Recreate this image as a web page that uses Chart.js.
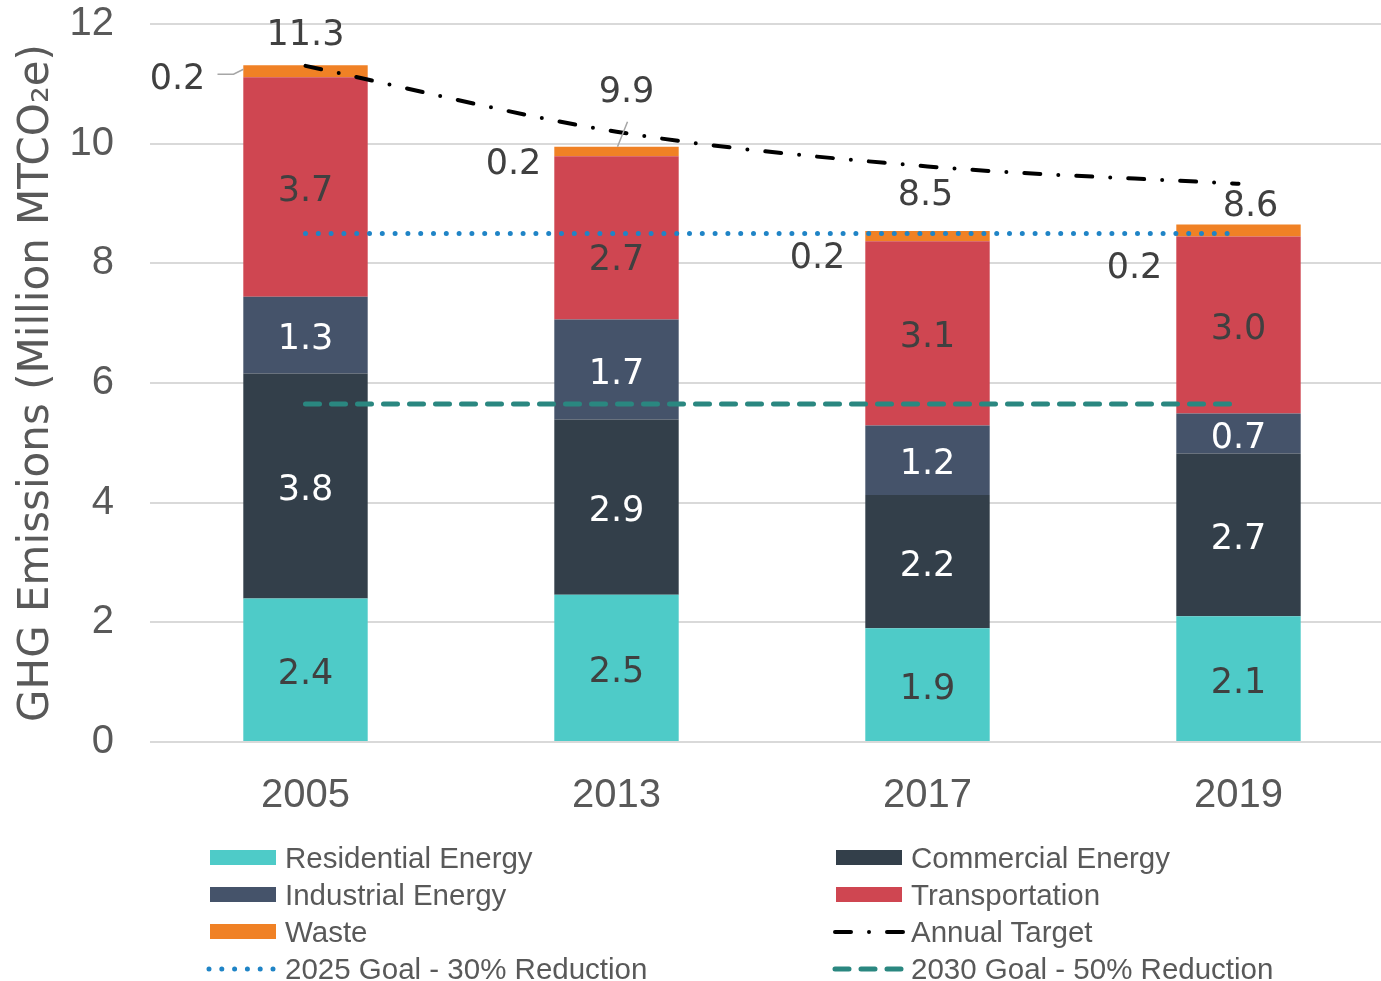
<!DOCTYPE html>
<html>
<head>
<meta charset="utf-8">
<script src="https://cdn.jsdelivr.net/npm/chart.js@4.4.1/dist/chart.umd.min.js"></script>
<style>
  html, body { margin: 0; padding: 0; background: #fff; overflow: hidden; }
  #wrap { position: relative; width: 1381px; height: 981px; overflow: hidden; }
  #chart { position: absolute; left: 0; top: -36px; }
  .lg-item { position: absolute; height: 36px; white-space: nowrap;
    font-family: "Liberation Sans", Arial, sans-serif; font-size: 29.5px; color: #595959; }
  .lg-item canvas { position: absolute; top: 10px; }
  .lg-item span { position: absolute; top: 1px; line-height: 34px; }
</style>
</head>
<body>
<div id="wrap">
  <canvas id="chart" width="1394" height="1017"></canvas>
  <div id="legend"></div>
</div>
<script>
// 年別カテゴリ
const years = ['2005', '2013', '2017', '2019'];

// 部門別排出量 (Million MTCO2e)
const residential = [2.4, 2.46, 1.9, 2.1];
const commercial = [3.76, 2.93, 2.23, 2.72];
const industrial = [1.28, 1.67, 1.16, 0.67];
const transportation = [3.67, 2.73, 3.08, 2.96];
const waste = [0.2, 0.16, 0.17, 0.2];

// 合計ラベル
const totals = ['11.3', '9.9', '8.5', '8.6'];

// 目標線
const annualTarget = [11.3, 10.2, 9.62, 9.33];
const goal2025 = [8.5, 8.5, 8.5, 8.5];
const goal2030 = [5.65, 5.65, 5.65, 5.65];

const gray = '#595959';
const darkLabel = '#404040';
const labelFont = '"DejaVu Sans", sans-serif';
const tickFont = '"Liberation Sans", Arial, sans-serif';

// ラベル位置の微調整 (px)
const wasteLabelShift = [[-128, 9], [-103, 13], [-110, 23], [-104, 38]];
const totalLabelShift = [[0, -29], [10, -54], [-2, -35], [12, -18]];
const transLabelShift = [0, 18, 0, 0];

function barSet(label, data, color, labelColor) {
  return {
    type: 'bar', label, data, backgroundColor: color, stack: 'emissions',
    order: 2, labelColor, categoryPercentage: 1, barPercentage: 0.4
  };
}

function lineSet(label, data, color, width, dash, smooth) {
  return {
    type: 'line', label, data, borderColor: color, backgroundColor: color,
    borderWidth: width, borderDash: dash, borderCapStyle: 'round',
    pointRadius: 0, fill: false, stack: label, order: 0,
    tension: smooth ? 0.4 : 0,
    cubicInterpolationMode: smooth ? 'monotone' : 'default'
  };
}

const datasets = [
  barSet('Residential Energy', residential, '#4ecbc8', darkLabel),
  barSet('Commercial Energy', commercial, '#333f4a', '#ffffff'),
  barSet('Industrial Energy', industrial, '#45536a', '#ffffff'),
  barSet('Transportation', transportation, '#cf4651', darkLabel),
  barSet('Waste', waste, '#f08125', null),
  lineSet('Annual Target', annualTarget, '#000000', 4, [16, 18, 0, 18], true),
  lineSet('2025 Goal - 30% Reduction', goal2025, '#1f84c6', 5, [0, 12.8], false),
  lineSet('2030 Goal - 50% Reduction', goal2030, '#2a8780', 5, [14, 12], false)
];

/**
 * 棒グラフ内の数値・合計・廃棄物ラベル
 */
const labelPlugin = {
  id: 'segmentLabels',
  afterDatasetsDraw(chart) {
    const ctx = chart.ctx;
    ctx.save();
    ctx.font = '35px ' + labelFont;
    ctx.textAlign = 'center';
    ctx.textBaseline = 'middle';

    chart.data.datasets.forEach((ds, di) => {
      if (ds.type !== 'bar' || !ds.labelColor) return;
      const meta = chart.getDatasetMeta(di);
      meta.data.forEach((bar, i) => {
        const shift = ds.label === 'Transportation' ? transLabelShift[i] : 0;
        ctx.fillStyle = ds.labelColor;
        ctx.fillText(ds.data[i].toFixed(1), bar.x, (bar.y + bar.base) / 2 + 5 + shift);
      });
    });

    const wIdx = chart.data.datasets.findIndex(d => d.label === 'Waste');
    const wMeta = chart.getDatasetMeta(wIdx);
    ctx.fillStyle = darkLabel;
    wMeta.data.forEach((bar, i) => {
      const mid = (bar.y + bar.base) / 2;
      const wx = bar.x + wasteLabelShift[i][0];
      const wy = mid + wasteLabelShift[i][1];
      ctx.fillText(waste[i].toFixed(1), wx, wy);
      const tx = bar.x + totalLabelShift[i][0];
      const ty = bar.y + totalLabelShift[i][1];
      ctx.fillText(totals[i], tx, ty);
    });

    // 引き出し線
    ctx.strokeStyle = '#a6a6a6';
    ctx.lineWidth = 1.5;
    const b0 = wMeta.data[0];
    ctx.beginPath();
    ctx.moveTo(b0.x - 88, (b0.y + b0.base) / 2 + 3);
    ctx.lineTo(b0.x - 72, (b0.y + b0.base) / 2 + 3);
    ctx.lineTo(b0.x - 62, (b0.y + b0.base) / 2 - 2);
    ctx.stroke();
    const b1 = wMeta.data[1];
    ctx.beginPath();
    ctx.moveTo(b1.x + 11, b1.y - 25);
    ctx.lineTo(b1.x + 1, b1.y);
    ctx.stroke();
    ctx.restore();
  }
};

const chart = new Chart(document.getElementById('chart'), {
  data: { labels: years, datasets },
  options: {
    responsive: false,
    animation: false,
    layout: { padding: { top: 0, right: 0, bottom: 169, left: 0 } },
    plugins: { legend: { display: false }, tooltip: { enabled: false } },
    scales: {
      x: {
        stacked: true,
        grid: { display: false, drawTicks: false },
        border: { display: false },
        ticks: { color: gray, padding: 30, font: { family: tickFont, size: 40 } },
        afterFit(scale) { scale.height = 70; }
      },
      y: {
        stacked: true,
        min: 0,
        max: 12,
        grid: { color: '#d9d9d9', lineWidth: 2, drawTicks: false },
        border: { display: false },
        ticks: { stepSize: 2, color: gray, padding: 36, font: { family: tickFont, size: 40 } },
        title: {
          display: true,
          text: 'GHG Emissions (Million MTCO₂e)',
          color: gray,
          font: { family: labelFont, size: 42 },
          padding: { top: 12, bottom: 0 }
        },
        afterFit(scale) { scale.width = 150; }
      }
    }
  },
  plugins: [labelPlugin]
});

// 凡例 (2列)
const legendCols = [
  { swatch: 206, text: 285 },
  { swatch: 832, text: 911 }
];
const rowCenters = [858, 895, 932, 969];
const legendEl = document.getElementById('legend');
datasets.forEach((ds, i) => {
  const col = legendCols[i % 2];
  const rowY = rowCenters[Math.floor(i / 2)];
  const item = document.createElement('div');
  item.className = 'lg-item';
  item.style.left = col.swatch + 'px';
  item.style.top = (rowY - 18) + 'px';
  const c = document.createElement('canvas');
  c.width = 74; c.height = 16;
  c.style.left = '0px';
  const g = c.getContext('2d');
  if (ds.type === 'bar') {
    g.fillStyle = ds.backgroundColor;
    g.fillRect(4, 0, 66, 15);
  } else {
    g.strokeStyle = ds.borderColor;
    g.lineWidth = ds.borderWidth;
    g.lineCap = 'round';
    g.setLineDash(ds.borderDash);
    g.beginPath();
    g.moveTo(3, 8);
    g.lineTo(72, 8);
    g.stroke();
  }
  item.appendChild(c);
  const t = document.createElement('span');
  t.textContent = ds.label;
  t.style.left = (col.text - col.swatch) + 'px';
  item.appendChild(t);
  legendEl.appendChild(item);
});
</script>
</body>
</html>
